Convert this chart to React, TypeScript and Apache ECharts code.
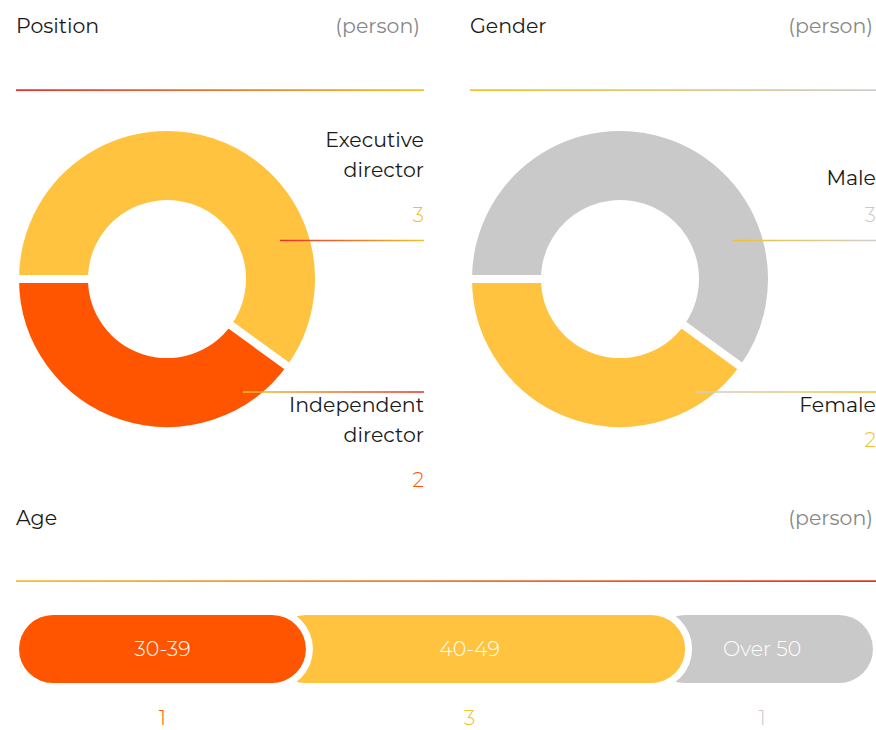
import React, { useEffect, useRef } from "react";
import * as echarts from "echarts";

// ---- data ----
const panelTitles = ["Position", "Gender", "Age"];
const unitLabel = "(person)";
const positionNames = ["Executive\ndirector", "Independent\ndirector"];
const positionValues = [3, 2];
const genderNames = ["Male", "Female"];
const genderValues = [3, 2];
const ageGroups = ["30-39", "40-49", "Over 50"];
const ageCounts = [1, 3, 1];
// share of the bar's length occupied by each group, as drawn (%)
const ageBarShare = [33.6, 44.4, 22.0];

// ---- styles ----
const ORANGE = "#FF5500";
const YELLOW = "#FFC340";
const GREY = "#C9C9C9";
const RED = "#E5302B";
const GOLD = "#F0C12C";
const LINE_GREY = "#CFCFCF";
const FONT = "Montserrat, Inter, 'Noto Sans', sans-serif";
const FS = 20.5;

const hgrad = (a: string, b: string) =>
  new echarts.graphic.LinearGradient(0, 0, 1, 0, [
    { offset: 0, color: a },
    { offset: 1, color: b },
  ]);

export default function App() {
  const ref = useRef<HTMLDivElement>(null);
  useEffect(() => {
    document.body.style.margin = "0";
    if (!ref.current) return;
    const chart = echarts.init(ref.current, undefined, { renderer: "svg" });

    const cy = 279;
    const panels = [
      {
        title: panelTitles[0], left: 16, right: 424, unitRight: 420, cx: 167,
        names: positionNames, values: positionValues,
        slice: [YELLOW, ORANGE], valColor: [GOLD, ORANGE], a: RED, b: GOLD,
      },
      {
        title: panelTitles[1], left: 470, right: 876, unitRight: 873, cx: 620,
        names: genderNames, values: genderValues,
        slice: [GREY, YELLOW], valColor: [GREY, GOLD], a: GOLD, b: LINE_GREY,
      },
    ];

    const titleStyle = (text: string, align: string, gray: boolean) => ({
      text,
      fill: gray ? "#888888" : "#1A1A1A",
      fontSize: FS,
      fontWeight: 400,
      fontFamily: FONT,
      align,
      verticalAlign: "middle",
    });

    const graphics: any[] = [];
    panels.forEach((p) => {
      graphics.push({ type: "text", x: p.left, y: 25.5, style: titleStyle(p.title, "left", false) });
      graphics.push({ type: "text", x: p.unitRight, y: 25.5, style: titleStyle(unitLabel, "right", true) });
      graphics.push({
        type: "rect",
        shape: { x: p.left, y: 89.3, width: p.right - p.left, height: 1.6 },
        style: { fill: hgrad(p.a, p.b) },
      });
      // top label (first item)
      {
        const lineY = 240.5;
        const valY = 214.5;
        const lines = p.names[0].split("\n");
        const lastY = valY - (lines.length > 1 ? 45 : 37);
        lines.forEach((ln, k) => {
          graphics.push({
            type: "text", x: p.right, y: lastY - (lines.length - 1 - k) * 30,
            style: { text: ln, fill: "#1A1A1A", fontSize: FS, fontFamily: FONT, align: "right", verticalAlign: "middle" },
          });
        });
        graphics.push({
          type: "text", x: p.right, y: valY,
          style: { text: String(p.values[0]), fill: p.valColor[0], fontSize: FS, fontWeight: 300, fontFamily: FONT, align: "right", verticalAlign: "middle" },
        });
        graphics.push({
          type: "rect",
          shape: { x: p.cx + 113, y: lineY - 0.8, width: p.right - (p.cx + 113), height: 1.6 },
          style: { fill: hgrad(p.a, p.b) },
          z: 10,
        });
      }
      // bottom label (second item)
      {
        const lineY = 392;
        const firstY = 404.5;
        const lines = p.names[1].split("\n");
        lines.forEach((ln, k) => {
          graphics.push({
            type: "text", x: p.right, y: firstY + k * 30,
            style: { text: ln, fill: "#1A1A1A", fontSize: FS, fontFamily: FONT, align: "right", verticalAlign: "middle" },
          });
        });
        const lastY = firstY + (lines.length - 1) * 30;
        graphics.push({
          type: "text", x: p.right, y: lastY + (lines.length > 1 ? 45 : 35),
          style: { text: String(p.values[1]), fill: p.valColor[1], fontSize: FS, fontWeight: 300, fontFamily: FONT, align: "right", verticalAlign: "middle" },
        });
        graphics.push({
          type: "rect",
          shape: { x: p.cx + 76, y: lineY - 0.8, width: p.right - (p.cx + 76), height: 1.6 },
          style: { fill: hgrad(p.b, p.a) },
          z: 10,
        });
      }
    });

    // Age header
    graphics.push({ type: "text", x: 16, y: 517.5, style: titleStyle(panelTitles[2], "left", false) });
    graphics.push({ type: "text", x: 873, y: 517.5, style: titleStyle(unitLabel, "right", true) });
    graphics.push({
      type: "rect",
      shape: { x: 16, y: 580.3, width: 860, height: 1.6 },
      style: { fill: hgrad(GOLD, RED) },
    });

    const pies = panels.map((p) => ({
      type: "pie",
      center: [p.cx, cy],
      radius: [75, 152],
      startAngle: 180,
      clockwise: true,
      silent: true,
      label: { show: false },
      labelLine: { show: false },
      emphasis: { disabled: true },
      itemStyle: { borderColor: "#fff", borderWidth: 8 },
      data: p.names.map((n, i) => ({
        name: n.replace("\n", " "),
        value: p.values[i],
        itemStyle: { color: p.slice[i] },
      })),
    }));

    const ageColors = [ORANGE, YELLOW, GREY];
    const ageValColors = [ORANGE, GOLD, GREY];
    const n = ageGroups.length;
    let acc = 0;
    const ageData = ageGroups.map((g, i) => {
      const start = acc;
      acc += ageBarShare[i];
      return [start, acc, ageCounts[i], i];
    });

    const option: any = {
      animation: false,
      grid: { left: 19, right: 3, top: 615, height: 68 },
      xAxis: { type: "value", min: 0, max: 100, show: false },
      yAxis: { type: "category", data: ["Age"], show: false },
      graphic: graphics,
      series: [
        ...pies,
        {
          type: "custom",
          coordinateSystem: "cartesian2d",
          clip: false,
          silent: true,
          data: ageData,
          renderItem: (params: any, api: any) => {
            const i = api.value(3);
            const s = api.coord([api.value(0), 0]);
            const e = api.coord([api.value(1), 0]);
            const h = api.size([0, 1])[1];
            const r = h / 2;
            const x0 = i === 0 ? s[0] : s[0] - r;
            const x1 = e[0];
            const y0 = s[1] - h / 2;
            const gap = 7;
            const base = (n - i) * 10;
            const cx = i === 1 ? (x0 - 18 + x1) / 2 : (x0 + x1) / 2;
            const children: any[] = [];
            if (i < n - 1) {
              children.push({
                type: "rect",
                shape: { x: x0, y: y0 - gap, width: x1 - x0 + gap, height: h + 2 * gap, r: r + gap },
                style: { fill: "#fff" },
                z2: base,
              });
            }
            children.push({
              type: "rect",
              shape: { x: x0, y: y0, width: x1 - x0, height: h, r },
              style: { fill: ageColors[i] },
              z2: base + 1,
            });
            children.push({
              type: "text",
              x: cx, y: s[1] - 0.5,
              style: { text: ageGroups[i], fill: "#fff", fontSize: FS, fontWeight: 300, fontFamily: FONT, align: "center", verticalAlign: "middle" },
              z2: 200,
            });
            children.push({
              type: "text",
              x: cx, y: s[1] + 68,
              style: { text: String(api.value(2)), fill: ageValColors[i], fontSize: FS, lineHeight: 16, fontWeight: 300, fontFamily: FONT, align: "center", verticalAlign: "middle" },
              z2: 200,
            });
            return { type: "group", children };
          },
        },
      ],
    };
    chart.setOption(option);
    return () => chart.dispose();
  }, []);
  return <div ref={ref} style={{ width: 876, height: 730 }} />;
}
